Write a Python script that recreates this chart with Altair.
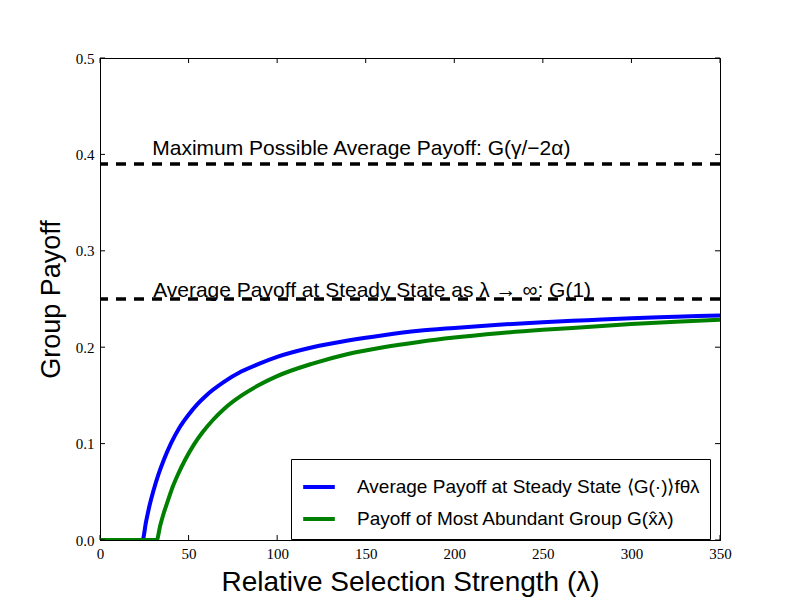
import altair as alt
import pandas as pd

# ---- data ----
lam_blue = [0, 24, 26, 28, 30, 33, 36, 40, 45, 50, 55, 60, 70, 80, 90, 100, 120,
            140, 160, 180, 200, 225, 250, 275, 300, 325, 350]
val_blue = [0, 0, 0.019, 0.036, 0.050, 0.068, 0.083, 0.100, 0.117, 0.130, 0.141,
            0.150, 0.164, 0.175, 0.183, 0.190, 0.200, 0.207, 0.2125, 0.217, 0.220,
            0.2233, 0.226, 0.228, 0.230, 0.2315, 0.233]

lam_green = [0, 32, 34, 36, 38, 41, 44, 48, 53, 58, 64, 70, 80, 90, 100, 120, 140,
             160, 180, 200, 225, 250, 275, 300, 325, 350]
val_green = [0, 0, 0.015, 0.028, 0.039, 0.055, 0.068, 0.083, 0.099, 0.112, 0.125,
             0.136, 0.150, 0.161, 0.170, 0.183, 0.193, 0.200, 0.2055, 0.210,
             0.2145, 0.218, 0.221, 0.224, 0.2265, 0.2285]

series_names = [
    "Average Payoff at Steady State ⟨G(·)⟩fθλ",
    "Payoff of Most Abundant Group G(x̂λ)",
]
series_colors = ["#0000ff", "#008000"]

ref_levels = [0.39, 0.25]
ref_texts = [
    "Maximum Possible Average Payoff: G(γ/−2α)",
    "Average Payoff at Steady State as λ → ∞: G(1)",
]
ref_text_x = [29.5, 30]
ref_text_y = [0.399, 0.252]

x_ticks = [0, 50, 100, 150, 200, 250, 300, 350]
y_ticks = [0.0, 0.1, 0.2, 0.3, 0.4, 0.5]

W, H = 620, 482

# ---- tables ----
lines_df = pd.concat([
    pd.DataFrame({"lam": lam_blue, "val": val_blue, "series": series_names[0]}),
    pd.DataFrame({"lam": lam_green, "val": val_green, "series": series_names[1]}),
])
ref_df = pd.DataFrame({"level": ref_levels})
txt_df = pd.DataFrame({"x": ref_text_x, "y": ref_text_y, "label": ref_texts})
xt_df = pd.DataFrame({"t": x_ticks})
yt_df = pd.DataFrame({"t": y_ticks})

xscale = alt.Scale(domain=[0, 350], nice=False, zero=False)
yscale = alt.Scale(domain=[0, 0.5], nice=False, zero=False)

xaxis = alt.Axis(values=x_ticks, format="d", ticks=False, grid=False,
                 domainColor="black", labelFont="Liberation Serif", labelFontSize=15,
                 labelColor="black", labelPadding=6, labelFlush=False,
                 title="Relative Selection Strength (λ)", titleFont="Liberation Sans",
                 titleFontSize=28, titleFontWeight="normal", titleColor="black",
                 titlePadding=7)
yaxis = alt.Axis(values=y_ticks, format=".1f", ticks=False, grid=False,
                 domainColor="black", labelFont="Liberation Serif", labelFontSize=15,
                 labelColor="black", labelPadding=6, labelFlush=False,
                 title="Group Payoff", titleFont="Liberation Sans",
                 titleFontSize=27, titleFontWeight="normal", titleColor="black",
                 titlePadding=10)

lines = alt.Chart(lines_df).mark_line(strokeWidth=4, clip=True,
                                      interpolate="monotone").encode(
    x=alt.X("lam:Q", scale=xscale, axis=xaxis),
    y=alt.Y("val:Q", scale=yscale, axis=yaxis),
    color=alt.Color("series:N",
                    scale=alt.Scale(domain=series_names, range=series_colors),
                    legend=alt.Legend(orient="none", legendX=191, legendY=401,
                                      title=None, symbolType="stroke",
                                      symbolSize=1000, symbolStrokeWidth=4,
                                      labelFont="Liberation Sans", labelFontSize=19,
                                      labelColor="black", labelLimit=500,
                                      strokeColor="black", fillColor="white",
                                      padding=10, rowPadding=4, labelOffset=20,
                                      cornerRadius=0)),
)

rules = alt.Chart(ref_df).mark_rule(color="black", strokeWidth=3.5,
                                    strokeDash=[10, 8]).encode(
    y=alt.Y("level:Q", scale=yscale)
)

texts = alt.Chart(txt_df).mark_text(align="left", baseline="alphabetic",
                                    font="Liberation Sans", fontSize=21,
                                    color="black").encode(
    x=alt.X("x:Q", scale=xscale), y=alt.Y("y:Q", scale=yscale), text="label:N"
)

tick_bottom = alt.Chart(xt_df).mark_rule(color="black").encode(
    x=alt.X("t:Q", scale=xscale), y=alt.value(H), y2=alt.value(H - 5))
tick_top = alt.Chart(xt_df).mark_rule(color="black").encode(
    x=alt.X("t:Q", scale=xscale), y=alt.value(0), y2=alt.value(5))
tick_left = alt.Chart(yt_df).mark_rule(color="black").encode(
    y=alt.Y("t:Q", scale=yscale), x=alt.value(0), x2=alt.value(5))
tick_right = alt.Chart(yt_df).mark_rule(color="black").encode(
    y=alt.Y("t:Q", scale=yscale), x=alt.value(W), x2=alt.value(W - 5))

chart = alt.layer(lines, rules, texts, tick_bottom, tick_top, tick_left, tick_right).properties(
    width=W, height=H,
    autosize=alt.AutoSizeParams(type="none"),
    padding={"left": 92, "top": 50, "right": 50, "bottom": 58},
    background="white",
).configure_view(stroke="black", strokeWidth=1)

chart.save("out.html", embed_options={"renderer": "svg", "actions": False})
